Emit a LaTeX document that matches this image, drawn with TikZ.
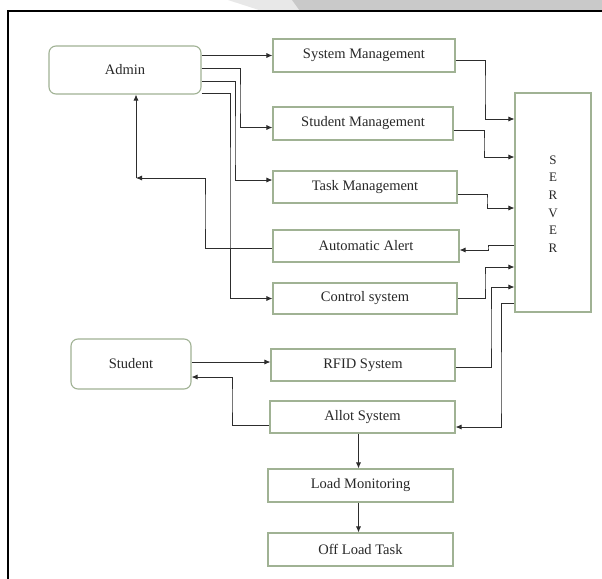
\documentclass[tikz,border=0pt]{standalone}
\usepackage{fontspec}
\setmainfont{Liberation Serif}
\usetikzlibrary{arrows.meta}
\definecolor{boxc}{RGB}{160,178,148}
\definecolor{linec}{RGB}{45,45,45}
\definecolor{txtc}{RGB}{40,40,40}
\tikzset{
  box/.style={draw=boxc, line width=1.1pt, fill=white, inner sep=0pt, text=txtc,
    font=\fontsize{14.5}{16}\selectfont},
  rbox/.style={box, rounded corners=7pt},
  conn/.style={draw=linec, line width=0.8pt},
  arr/.style={conn, -{Latex[length=6pt,width=5pt]}},
}
\begin{document}
\begin{tikzpicture}[x=1pt,y=-1pt]
\clip (0,0) rectangle (602,578);
\fill[white] (0,0) rectangle (602,578);
% watermark band at top
\fill[gray!18] (228,0) -- (300,0) -- (300,11) -- (262,11) -- cycle;
\fill[gray!42] (292,0) -- (602,0) -- (602,11) -- (300,11) -- cycle;
% frame
\draw[black, line width=1.6pt] (8,600) -- (8,11) -- (620,11);

% nodes
\node[rbox, minimum width=152pt, minimum height=48pt] (admin) at (125,70) {Admin};
\node[box, minimum width=182pt, minimum height=33pt] (sysm) at (364,55.5) {System Management};
\node[box, minimum width=180pt, minimum height=33pt] (stum) at (363,123.5) {Student Management};
\node[box, minimum width=184pt, minimum height=32pt] (task) at (365,187) {Task Management};
\node[box, minimum width=186pt, minimum height=32pt] (alert) at (366,246) {Automatic Alert};
\node[box, minimum width=184pt, minimum height=31pt] (ctrl) at (365,298.5) {Control system};
\node[box, minimum width=76pt, minimum height=219pt] (server) at (553,202.5) {};
\node[text=txtc, font=\fontsize{13}{17.6}\selectfont, align=center, inner sep=0pt] (srvlabel) at (553,204) {S\\E\\R\\V\\E\\R};
\node[rbox, minimum width=120pt, minimum height=50pt] (student) at (131,364) {Student};
\node[box, minimum width=184pt, minimum height=32pt] (rfid) at (363,365) {RFID System};
\node[box, minimum width=185pt, minimum height=32pt] (allot) at (362.5,417) {Allot System};
\node[box, minimum width=185pt, minimum height=33pt] (load) at (360.5,485.5) {Load Monitoring};
\node[box, minimum width=185pt, minimum height=33pt] (off) at (360.5,549.5) {Off Load Task};

% admin outputs
\draw[arr] (admin.east |- sysm.west) -- (sysm.west);
\draw[arr] ([yshift=2pt]admin.east) -| (240,100) |- ([yshift=-4pt]stum.west);
\draw[arr] ([yshift=-11pt]admin.east) -| (235,150) |- ([yshift=7pt]task.west);
\draw[arr] ([yshift=-23pt]admin.east) -| (230,200) |- (ctrl.west);
% alert back to admin
\coordinate (c5) at (136,178);
\draw[arr] ([yshift=-2pt]alert.west) -| (205,210) |- (c5);
\draw[arr] (c5) -- (admin.south -| c5);

% to server
\draw[arr] ([yshift=-4.5pt]sysm.east) -| (485,90) |- ([yshift=83.5pt]server.west);
\draw[arr] ([yshift=-6.5pt]stum.east) -| (484,145) |- ([yshift=45.5pt]server.west);
\draw[arr] ([yshift=-7pt]task.east) -| (487,200) |- ([yshift=-5.5pt]server.west);
\draw[arr] ([yshift=-42.5pt]server.west) -| (488,248) |- ([yshift=-4pt]alert.east);
\draw[arr] (ctrl.east) -| (485,280) |- ([yshift=-64.5pt]server.west);
\draw[arr] ([yshift=-2pt]rfid.east) -| (491,330) |- ([yshift=-84.5pt]server.west);
\draw[arr] ([yshift=-100.5pt]server.west) -| (501,400) |- ([yshift=-10pt]allot.east);

% student
\draw[arr] ([yshift=2pt]student.east) -- ([yshift=2pt]student.east -| rfid.west);
\draw[arr] ([yshift=-8pt]allot.west) -| (232,400) |- ([yshift=-13pt]student.east);
\draw[arr] ([xshift=-4pt]allot.south) -- ([xshift=-4pt]allot.south |- load.north);
\draw[arr] ([xshift=-2pt]load.south) -- ([xshift=-2pt]load.south |- off.north);
\end{tikzpicture}
\end{document}
